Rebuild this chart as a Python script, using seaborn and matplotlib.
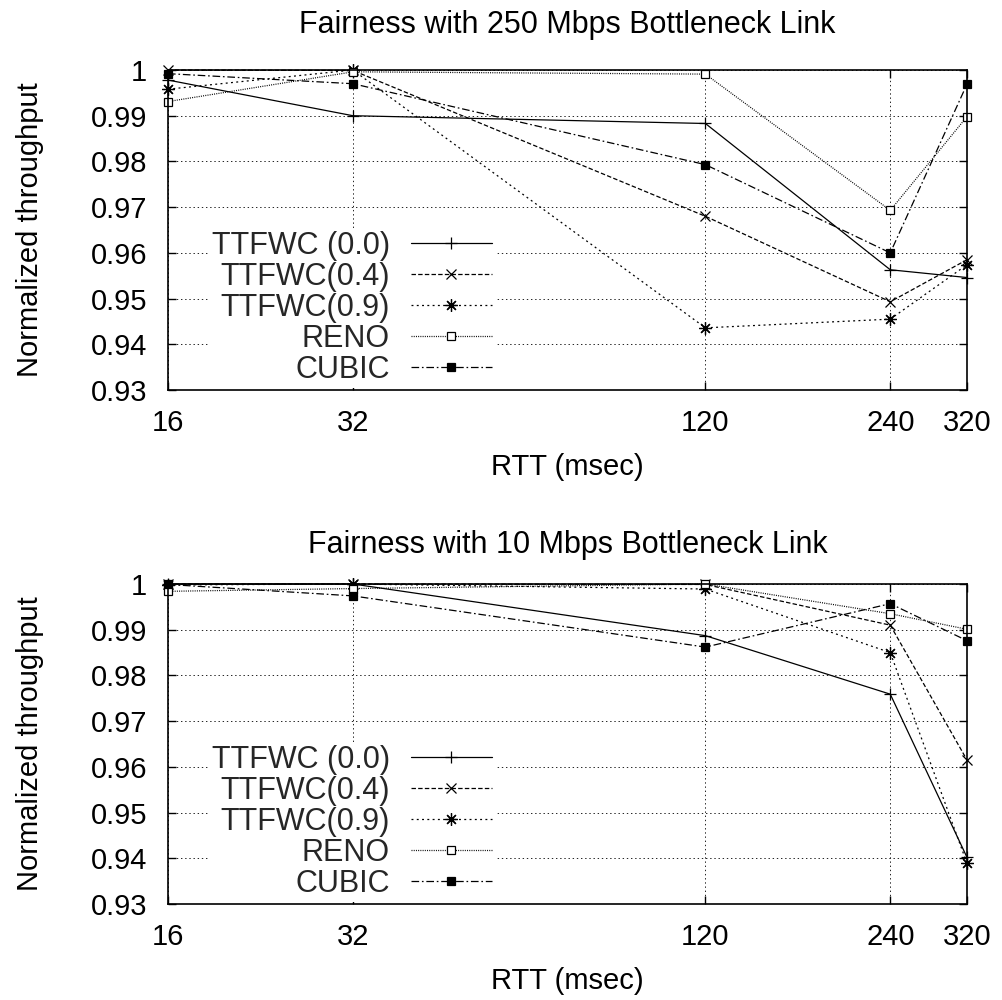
import matplotlib
matplotlib.use("Agg")
import matplotlib.pyplot as plt
import seaborn as sns
from matplotlib.ticker import NullLocator

# ---------------- data ----------------
rtt = [16, 32, 120, 240, 320]
xtick_labels = ["16", "32", "120", "240", "320"]
yticks = [0.93, 0.94, 0.95, 0.96, 0.97, 0.98, 0.99, 1.0]
ytick_labels = ["0.93", "0.94", "0.95", "0.96", "0.97", "0.98", "0.99", "1"]
series_names = ["TTFWC (0.0)", "TTFWC(0.4)", "TTFWC(0.9)", "RENO", "CUBIC"]
titles = ["Fairness with 250 Mbps Bottleneck Link",
          "Fairness with 10 Mbps Bottleneck Link"]

# 250 Mbps bottleneck
ttfwc00_250 = [0.9978, 0.9900, 0.9883, 0.9563, 0.9546]
ttfwc04_250 = [1.0000, 0.9999, 0.9680, 0.9493, 0.9585]
ttfwc09_250 = [0.9958, 1.0000, 0.9436, 0.9455, 0.9574]
reno_250 = [0.9931, 0.9996, 0.9991, 0.9693, 0.9898]
cubic_250 = [0.9992, 0.9970, 0.9793, 0.9600, 0.9969]

# 10 Mbps bottleneck
ttfwc00_10 = [1.0000, 1.0000, 0.9887, 0.9759, 0.9402]
ttfwc04_10 = [1.0000, 1.0000, 0.9999, 0.9910, 0.9615]
ttfwc09_10 = [0.9998, 1.0000, 0.9989, 0.9850, 0.9389]
reno_10 = [0.9984, 0.9990, 1.0000, 0.9935, 0.9901]
cubic_10 = [0.9999, 0.9974, 0.9862, 0.9957, 0.9876]

panels = [
    [ttfwc00_250, ttfwc04_250, ttfwc09_250, reno_250, cubic_250],
    [ttfwc00_10, ttfwc04_10, ttfwc09_10, reno_10, cubic_10],
]

# ---------------- styles ----------------
styles = {
    "TTFWC (0.0)": dict(ls="-", marker="+", ms=9, mfc="black"),
    "TTFWC(0.4)": dict(ls=(0, (3.2, 1.6)), marker="x", ms=7, mfc="black"),
    "TTFWC(0.9)": dict(ls=(0, (1.4, 2.4)), marker=(8, 2, 0), ms=9, mfc="black"),
    "RENO": dict(ls=(0, (0.7, 0.9)), marker="s", ms=6, mfc="white"),
    "CUBIC": dict(ls=(0, (5.5, 2, 1.2, 2)), marker="s", ms=5.5, mfc="black"),
}

sns.set_theme(style="white")
plt.rcParams["font.family"] = ["Liberation Sans", "DejaVu Sans"]
plt.rcParams["lines.scale_dashes"] = False

fig = plt.figure(figsize=(10.03, 10), dpi=100)
W, H = 1003, 1000
axes_px = [(168, 70, 967, 390), (168, 584, 967, 904)]
title_pads = [27, 22]
FS = 21

for i, (l, t, r, b) in enumerate(axes_px):
    ax = fig.add_axes([l / W, 1 - b / H, (r - l) / W, (b - t) / H])
    for name, vals in zip(series_names, panels[i]):
        st = styles[name]
        sns.lineplot(x=rtt, y=vals, ax=ax, color="black", linewidth=0.9,
                     linestyle=st["ls"], marker=st["marker"], markersize=st["ms"],
                     markerfacecolor=st["mfc"], markeredgecolor="black",
                     markeredgewidth=0.9, label=name, clip_on=False, zorder=3,
                     sort=False, estimator=None, errorbar=None)
    ax.set_xscale("log")
    ax.set_xlim(16, 320)
    ax.set_ylim(0.93, 1.0)
    ax.set_xticks(rtt, xtick_labels)
    ax.xaxis.set_minor_locator(NullLocator())
    ax.set_yticks(yticks, ytick_labels)
    ax.grid(True, color="black", linewidth=0.6, linestyle=(0, (1, 2)), zorder=0)
    ax.set_axisbelow(True)
    ax.tick_params(direction="in", length=6, width=1, top=True, right=True,
                   bottom=True, left=True, labelsize=FS, colors="black")
    ax.tick_params(axis="x", pad=14)
    ax.tick_params(axis="y", pad=15)
    for sp in ax.spines.values():
        sp.set_color("black")
        sp.set_linewidth(1.2)
        sp.set_zorder(6)
    ax.set_title(titles[i], fontsize=22, pad=title_pads[i], color="black")
    ax.set_xlabel("RTT (msec)", fontsize=FS, color="black")
    ax.set_ylabel("Normalized throughput", fontsize=FS, color="black")
    ax.xaxis.label.set_va("center")
    ax.yaxis.label.set_va("center")
    ax.xaxis.set_label_coords(0.5, -0.24)
    ax.yaxis.set_label_coords(-0.173, 0.5)
    leg = ax.legend(loc="lower left", bbox_to_anchor=(0.051, 0.007),
                    borderaxespad=0, markerfirst=False, frameon=True,
                    fancybox=False, framealpha=1, edgecolor="none",
                    facecolor="white", fontsize=22, handlelength=2.65,
                    handletextpad=0.68, labelspacing=0.03, borderpad=0.1)
    leg.set_zorder(5)

fig.savefig("out.png", dpi=100)
